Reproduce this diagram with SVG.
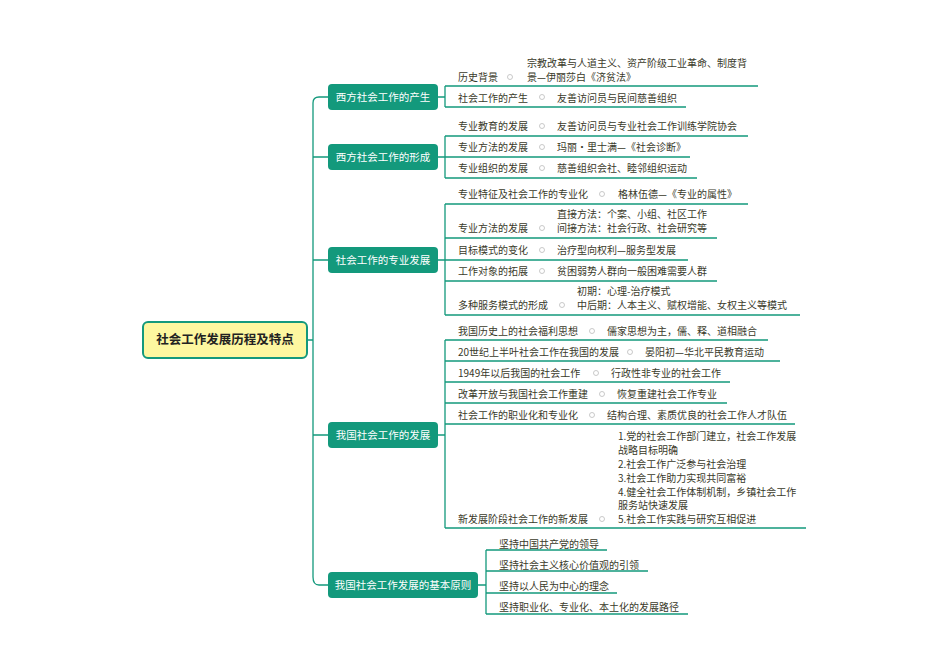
<svg xmlns="http://www.w3.org/2000/svg" width="950" height="672" viewBox="0 0 950 672">
<style>
text{font-family:"Noto Sans CJK SC","Liberation Sans",sans-serif;font-size:10px;fill:#3a3a2a}
.n text{fill:#fff;font-size:10.5px}
.n rect{fill:#13997c}
.c{fill:none;stroke:#13997c;stroke-width:1.3}
.d{fill:#fff;stroke:#bbb;stroke-width:0.8}
</style>
<rect width="950" height="672" fill="#fff"/>
<g id="connectors">
<path class="c" d="M307 340H313M328 97H319Q313 97 313 103V577Q313 585 319 585H328M313 157H328M313 260H328M313 435H328"/>
<path class="c" d="M438 97H445M445 86V107M445 86H758M445 107H686"/>
<path class="c" d="M438 157H445M445 136V178M445 136H748M445 157H690M445 178H697"/>
<path class="c" d="M438 260H445M445 204V315M445 204H748M445 238H717M445 260H688M445 281H717M445 315H800"/>
<path class="c" d="M438 435H445M445 340V528M445 340H768M445 361H780M445 382H730M445 403H727M445 424H795M445 528H806"/>
<path class="c" d="M478 585H486M486 550V614M486 550H607M486 571H648M486 593H617M486 614H688"/>
</g>
<g id="root"><rect x="143" y="322" width="164" height="36" rx="5" fill="#fdf7a0" stroke="#13997c" stroke-width="2"/><text x="225" y="344" text-anchor="middle" style="font-size:12.5px;font-weight:bold;fill:#222">社会工作发展历程及特点</text></g>
<g class="n" id="n1"><rect x="328" y="84" width="110" height="26" rx="4"/><text x="383" y="101" text-anchor="middle">西方社会工作的产生</text></g>
<g class="n" id="n2"><rect x="328" y="144" width="110" height="26" rx="4"/><text x="383" y="161" text-anchor="middle">西方社会工作的形成</text></g>
<g class="n" id="n3"><rect x="328" y="247" width="110" height="26" rx="4"/><text x="383" y="264" text-anchor="middle">社会工作的专业发展</text></g>
<g class="n" id="n4"><rect x="328" y="422" width="110" height="26" rx="4"/><text x="383" y="439" text-anchor="middle">我国社会工作的发展</text></g>
<g class="n" id="n5"><rect x="328" y="572" width="150" height="26" rx="4"/><text x="403" y="589" text-anchor="middle">我国社会工作发展的基本原则</text></g>
<g id="markers">
<circle class="d" cx="510" cy="77" r="2.5"/><circle class="d" cx="542" cy="97" r="2.5"/>
<circle class="d" cx="542" cy="126" r="2.5"/><circle class="d" cx="542" cy="147" r="2.5"/><circle class="d" cx="542" cy="168" r="2.5"/>
<circle class="d" cx="602" cy="194" r="2.5"/><circle class="d" cx="542" cy="228" r="2.5"/><circle class="d" cx="542" cy="250" r="2.5"/><circle class="d" cx="542" cy="271" r="2.5"/><circle class="d" cx="562" cy="305" r="2.5"/>
<circle class="d" cx="592" cy="331" r="2.5"/><circle class="d" cx="630" cy="352" r="2.5"/><circle class="d" cx="596" cy="373" r="2.5"/><circle class="d" cx="602" cy="394" r="2.5"/><circle class="d" cx="592" cy="415" r="2.5"/><circle class="d" cx="602" cy="519" r="2.5"/>
</g>
<g id="n1-items">
<text x="458" y="81">历史背景</text><text x="527" y="67">宗教改革与人道主义、资产阶级工业革命、制度背</text><text x="527" y="81">景—伊丽莎白《济贫法》</text>
<text x="458" y="102">社会工作的产生</text><text x="557" y="102">友善访问员与民间慈善组织</text>
</g>
<g id="n2-items">
<text x="458" y="130">专业教育的发展</text><text x="557" y="130">友善访问员与专业社会工作训练学院协会</text>
<text x="458" y="151">专业方法的发展</text><text x="557" y="151">玛丽·里士满—《社会诊断》</text>
<text x="458" y="172">专业组织的发展</text><text x="557" y="172">慈善组织会社、睦邻组织运动</text>
</g>
<g id="n3-items">
<text x="458" y="198">专业特征及社会工作的专业化</text><text x="618" y="198">格林伍德—《专业的属性》</text>
<text x="557" y="218">直接方法：个案、小组、社区工作</text><text x="458" y="232">专业方法的发展</text><text x="557" y="232">间接方法：社会行政、社会研究等</text>
<text x="458" y="254">目标模式的变化</text><text x="557" y="254">治疗型向权利—服务型发展</text>
<text x="458" y="275">工作对象的拓展</text><text x="557" y="275">贫困弱势人群向一般困难需要人群</text>
<text x="577" y="295">初期：心理-治疗模式</text><text x="458" y="309">多种服务模式的形成</text><text x="577" y="309">中后期：人本主义、赋权增能、女权主义等模式</text>
</g>
<g id="n4-items">
<text x="458" y="335">我国历史上的社会福利思想</text><text x="607" y="335">儒家思想为主，儒、释、道相融合</text>
<text x="458" y="356">20世纪上半叶社会工作在我国的发展</text><text x="645" y="356">晏阳初—华北平民教育运动</text>
<text x="458" y="377">1949年以后我国的社会工作</text><text x="611" y="377">行政性非专业的社会工作</text>
<text x="458" y="398">改革开放与我国社会工作重建</text><text x="617" y="398">恢复重建社会工作专业</text>
<text x="458" y="419">社会工作的职业化和专业化</text><text x="607" y="419">结构合理、素质优良的社会工作人才队伍</text>
<text x="618" y="440">1.党的社会工作部门建立，社会工作发展</text><text x="618" y="454">战略目标明确</text><text x="618" y="468">2.社会工作广泛参与社会治理</text><text x="618" y="482">3.社会工作助力实现共同富裕</text><text x="618" y="496">4.健全社会工作体制机制，乡镇社会工作</text><text x="618" y="509">服务站快速发展</text>
<text x="458" y="523">新发展阶段社会工作的新发展</text><text x="618" y="523">5.社会工作实践与研究互相促进</text>
</g>
<g id="n5-items">
<text x="499" y="548">坚持中国共产党的领导</text>
<text x="499" y="569">坚持社会主义核心价值观的引领</text>
<text x="499" y="590">坚持以人民为中心的理念</text>
<text x="499" y="611">坚持职业化、专业化、本土化的发展路径</text>
</g>
</svg>
